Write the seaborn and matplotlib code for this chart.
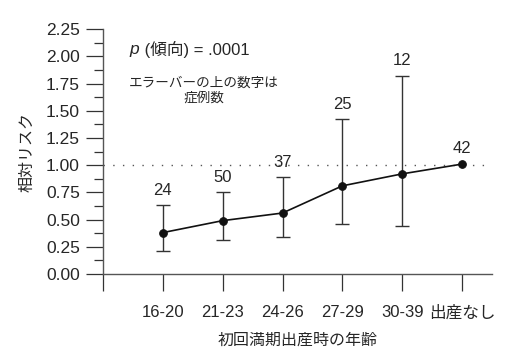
import numpy as np
import pandas as pd
import matplotlib
matplotlib.use('Agg')
import matplotlib.pyplot as plt
import seaborn as sns

# データ
categories = ['16-20', '21-23', '24-26', '27-29', '30-39', '出産なし']
rel_risk = [0.38, 0.49, 0.56, 0.81, 0.92, 1.01]
ci_low = [0.21, 0.31, 0.34, 0.46, 0.44, np.nan]
ci_high = [0.63, 0.75, 0.89, 1.42, 1.82, np.nan]
n_cases = [24, 50, 37, 25, 12, 42]
y_ticks = [0.00, 0.25, 0.50, 0.75, 1.00, 1.25, 1.50, 1.75, 2.00, 2.25]

sns.set_style('ticks')
plt.rcParams['font.family'] = ['Liberation Sans', 'Noto Sans CJK JP', 'DejaVu Sans']

df = pd.DataFrame({'pos': np.arange(1, len(categories) + 1), 'rr': rel_risk,
                   'lo': ci_low, 'hi': ci_high, 'n': n_cases})

fig = plt.figure(figsize=(5.12, 3.6), dpi=100)
ax = fig.add_axes([0.201, 0.239, 0.760, 0.680])

# 基準線 (相対リスク = 1)
ax.axhline(1.0, color='#555555', lw=1.0, linestyle=(0, (1, 6)), zorder=1)

# エラーバー
eb = df.dropna()
ax.errorbar(eb['pos'], eb['rr'], yerr=[eb['rr'] - eb['lo'], eb['hi'] - eb['rr']],
            fmt='none', ecolor='#333333', elinewidth=1.0, capsize=5, capthick=1.0, zorder=2)

# 折れ線と点
sns.lineplot(data=df, x='pos', y='rr', ax=ax, color='#111111', lw=1.2,
             marker='o', markersize=5.5, markeredgecolor='#111111', zorder=3)

# 症例数
for _, r in df.iterrows():
    top = r['hi'] if not np.isnan(r['hi']) else r['rr']
    ax.text(r['pos'], top + 0.07, f"{int(r['n'])}", ha='center', va='bottom', fontsize=12)

# p値と注記
ax.text(0.45, 2.06, 'p', style='italic', ha='left', va='center', fontsize=12.5)
ax.annotate(' (傾向) = .0001', xy=(0.45, 2.06), xytext=(7.5, 0), textcoords='offset points',
            ha='left', va='center', fontsize=12)
ax.text(1.68, 1.69, 'エラーバーの上の数字は\n症例数', ha='center', va='center',
        fontsize=9.8, linespacing=1.05)

ax.set_xlim(0, 6.5)
ax.set_ylim(0, 2.25)
ax.set_yticks(y_ticks)
ax.set_yticklabels([f'{v:.2f}' for v in y_ticks], fontsize=12.5)
ax.set_yticks(np.arange(0.125, 2.25, 0.25), minor=True)
ax.set_xticks(np.arange(0, len(categories) + 1))
ax.set_xticklabels([''] + categories, fontsize=12)
ax.tick_params(axis='both', which='major', length=12.5, width=0.9, color='#333333', pad=4)
ax.tick_params(axis='y', which='minor', length=6.5, width=0.9, color='#333333')
ax.tick_params(axis='x', pad=10)

for s in ['top', 'right']:
    ax.spines[s].set_visible(False)
for s in ['left', 'bottom']:
    ax.spines[s].set_color('#555555')
    ax.spines[s].set_linewidth(1.0)

ax.set_xlabel('初回満期出産時の年齢', fontsize=11.5, labelpad=9)
ax.set_ylabel('相対リスク', fontsize=11.5, labelpad=8)

fig.savefig('out.png', dpi=100)
